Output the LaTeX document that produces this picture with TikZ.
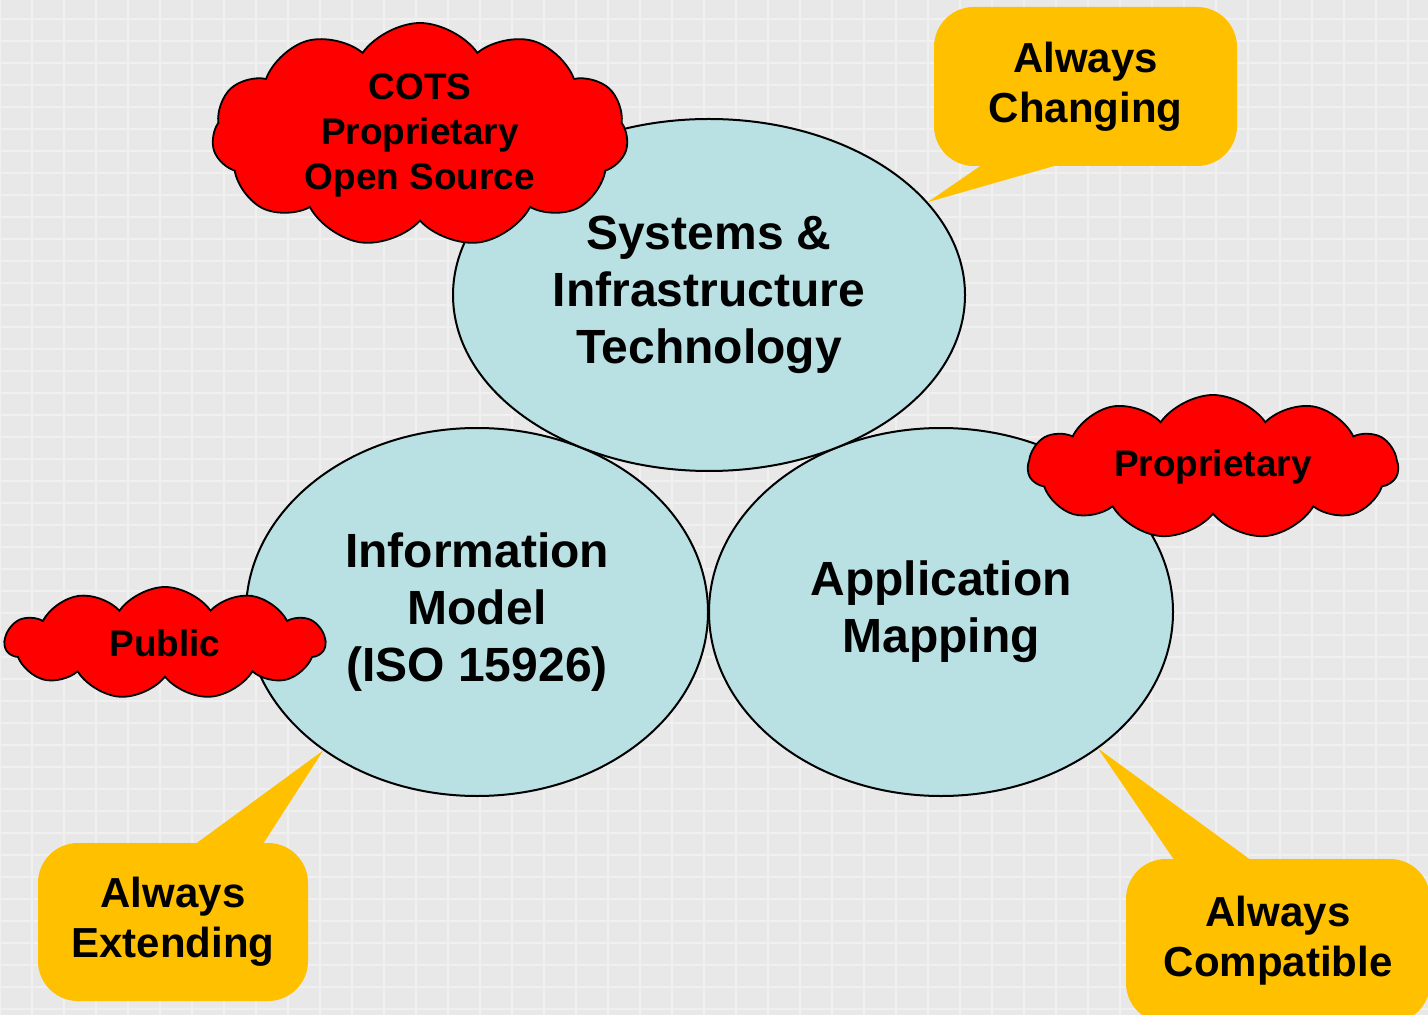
\documentclass[tikz,border=0pt]{standalone}
\usepackage{fontspec}
\setmainfont{Liberation Sans}
\usetikzlibrary{shapes.geometric,shapes.symbols}

\definecolor{bggray}{HTML}{E8E8E8}
\definecolor{gridwhite}{HTML}{F0F0F0}
\definecolor{ellfill}{HTML}{B9E1E4}
\definecolor{cloudred}{HTML}{FF0000}
\definecolor{callout}{HTML}{FFC000}

\begin{document}
\begin{tikzpicture}[x=0.5pt,y=-0.5pt]
        \tikzstyle{every node}=[align=center, inner sep=0pt]
        \tikzstyle{area}=[ellipse, draw, line width=1pt, fill=ellfill, font=\fontsize{24}{28.5}\selectfont\bfseries]
        \tikzstyle{puff}=[cloud, cloud puffs=11, cloud puff arc=110, cloud ignores aspect, draw, line width=0.9pt, fill=cloudred, font=\fontsize{18.5}{22.5}\selectfont\bfseries]
        \tikzstyle{bubble}=[rectangle, rounded corners=20pt, fill=callout, font=\fontsize{21}{25}\selectfont\bfseries]

        \useasboundingbox (0,0) rectangle (1428,1015);
        \clip (0,0) rectangle (1428,1015);
        \fill[bggray] (0,0) rectangle (1428,1015);
        \foreach \x in {0,32,...,1440}
            \draw[gridwhite, line width=1pt] (\x,0) -- (\x,1015);
        \foreach \y in {-3,19,...,1020}
            \draw[gridwhite, line width=1pt] (0,\y) -- (1428,\y);

        \node (info) [area, minimum width=231pt, minimum height=184pt] at (477,612) {Information\\Model\\(ISO 15926)};
        \node (app)  [area, minimum width=232pt, minimum height=184pt] at (941,612) {Application\\Mapping};
        \node (sit)  [area, minimum width=256pt, minimum height=176pt] at (709,295) {Systems \&\\Infrastructure\\Technology};

        \node (cots) [puff, minimum width=208pt, minimum height=112pt] at (420,135) {COTS\\Proprietary\\Open Source};
        \node (prop) [puff, minimum width=185pt, minimum height=72pt] at (1213,467) {Proprietary};
        \node (pub)  [puff, minimum width=160pt, minimum height=56pt] at (165,643) {Public};

        \node (chg) [bubble, minimum width=151.5pt, minimum height=79.5pt] at (1085.5,86.5) {Always\\Changing};
        \node (ext) [bubble, minimum width=135pt, minimum height=79pt] at (173,922) {Always\\Extending};
        \node (cmp) [bubble, minimum width=152pt, minimum height=82pt] at (1278,941) {Always\\Compatible};

        \fill[callout] ([xshift=24.5pt,yshift=1pt]chg.south west) -- (sit.23) -- ([xshift=63pt,yshift=1pt]chg.south west) -- cycle;
        \fill[callout] ([xshift=78.5pt,yshift=-1pt]ext.north west) -- (info.222) -- ([xshift=112.5pt,yshift=-1pt]ext.north west) -- cycle;
        \fill[callout] ([xshift=24.5pt,yshift=-1pt]cmp.north west) -- (app.319) -- ([xshift=63pt,yshift=-1pt]cmp.north west) -- cycle;

\end{tikzpicture}
\end{document}
